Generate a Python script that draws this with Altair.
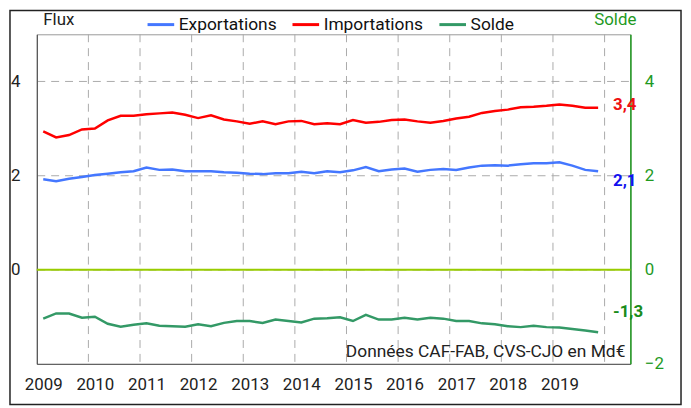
import altair as alt
import pandas as pd

# ---- data (quarterly, 2009Q1 .. 2019Q4), Md€ ----
first_year = 2009
exportations = [1.92, 1.88, 1.93, 1.97, 2.01, 2.04, 2.07, 2.09, 2.17, 2.12, 2.13, 2.09,
                2.09, 2.09, 2.07, 2.06, 2.04, 2.03, 2.05, 2.05, 2.08, 2.05, 2.09, 2.07,
                2.11, 2.18, 2.09, 2.13, 2.15, 2.08, 2.12, 2.14, 2.12, 2.17, 2.21, 2.22,
                2.21, 2.24, 2.26, 2.26, 2.28, 2.21, 2.12, 2.09]
importations = [2.94, 2.81, 2.86, 2.98, 3.00, 3.17, 3.27, 3.27, 3.30, 3.32, 3.34, 3.29,
                3.22, 3.28, 3.19, 3.15, 3.10, 3.15, 3.09, 3.15, 3.16, 3.09, 3.11, 3.09,
                3.18, 3.12, 3.14, 3.18, 3.19, 3.15, 3.12, 3.16, 3.21, 3.25, 3.33, 3.37,
                3.40, 3.45, 3.46, 3.48, 3.51, 3.48, 3.44, 3.44]
solde = [-1.04, -0.93, -0.93, -1.02, -1.00, -1.15, -1.21, -1.17, -1.14, -1.19, -1.20, -1.21,
         -1.16, -1.20, -1.13, -1.09, -1.09, -1.13, -1.06, -1.09, -1.12, -1.04, -1.03, -1.01,
         -1.09, -0.96, -1.06, -1.06, -1.02, -1.06, -1.02, -1.04, -1.09, -1.09, -1.14, -1.16,
         -1.20, -1.22, -1.19, -1.22, -1.23, -1.26, -1.29, -1.33]

series_names = ["Exportations", "Importations", "Solde"]
series_colors = ["#4477ff", "#ff0000", "#339966"]

end_labels = ["2,1", "3,4", "-1,3"]
end_label_pos = [1.88, 3.49, -0.91]
end_label_colors = ["#1111ee", "#ee1111", "#1a8c1a"]

year_label_ticks = list(range(0, 44, 4))          # Q1 of each year
year_bounds = [3.5 + 4 * k for k in range(11)]     # year boundaries (grid)

left_ticks = [0, 2, 4]
right_ticks = [-2, 0, 2, 4]
note = "Données CAF-FAB, CVS-CJO en Md€"

GREEN = "#1f9a1f"
FONT = "Roboto"
FS = 17

rows = []
for name, vals in zip(series_names, [exportations, importations, solde]):
    for i, v in enumerate(vals):
        rows.append({"t": i, "serie": name, "v": v})
df = pd.DataFrame(rows)
last_t = len(exportations) - 1

xscale = alt.Scale(domain=[-0.5, 45.5], nice=False, zero=False)
yscale = alt.Scale(domain=[-2, 5], nice=False, zero=False)

xaxis = alt.Axis(values=year_label_ticks, labelExpr=f"toString({first_year} + datum.value/4)",
                 grid=False, ticks=False, title=None, labelFontSize=FS, labelColor="#222",
                 labelPadding=13, domainColor="#555", labelFlush=False)
xenc = alt.X("t:Q", scale=xscale, axis=xaxis)

left_axis = alt.Axis(values=left_ticks, orient="left", ticks=False, grid=True,
                     gridDash=[8, 6], gridColor="#aaaaaa", domainColor="#444",
                     labelFontSize=FS, labelColor="#222", labelPadding=17,
                     title="Flux", titleAngle=0, titleAlign="left", titleBaseline="alphabetic",
                     titleX=6, titleY=-10, titleFontSize=FS, titleFontWeight="normal",
                     titleColor="#222")
right_axis = alt.Axis(values=right_ticks, orient="right", ticks=False, grid=False,
                      domainColor=GREEN, domainWidth=1.5, labelFontSize=FS, labelColor=GREEN,
                      labelPadding=14,
                      title="Solde", titleAngle=0, titleAlign="left", titleBaseline="alphabetic",
                      titleX=-37, titleY=-10, titleFontSize=FS, titleFontWeight="normal",
                      titleColor=GREEN)

grid_v = alt.Chart(pd.DataFrame({"t": year_bounds})).mark_rule(
    color="#aaaaaa", strokeDash=[8, 6], strokeWidth=1
).encode(x=xenc)

zero = alt.Chart(pd.DataFrame({"v": [0]})).mark_rule(color="#99cc00", strokeWidth=2).encode(
    y=alt.Y("v:Q", scale=yscale, axis=left_axis)
)

right = alt.Chart(pd.DataFrame({"v": [0]})).mark_rule(opacity=0).encode(
    y=alt.Y("v:Q", scale=yscale, axis=right_axis)
)

lines = alt.Chart(df).mark_line(strokeWidth=2.5).encode(
    x=xenc,
    y=alt.Y("v:Q", scale=yscale, axis=None),
    color=alt.Color("serie:N", scale=alt.Scale(domain=series_names, range=series_colors),
                    sort=series_names,
                    legend=alt.Legend(orient="none", legendX=110, legendY=-25,
                                      direction="horizontal", title=None,
                                      labelFontSize=17.5, labelColor="#111",
                                      symbolType="stroke", symbolStrokeWidth=3,
                                      symbolSize=720, columnPadding=9, labelOffset=3,
                                      padding=0)),
    detail="serie:N",
)

label_layers = []
for txt, pos, col in zip(end_labels, end_label_pos, end_label_colors):
    label_layers.append(
        alt.Chart(pd.DataFrame({"t": [last_t], "v": [pos], "txt": [txt]})).mark_text(
            align="left", baseline="middle", dx=15, fontSize=FS, fontWeight="bold", color=col
        ).encode(x=xenc, y=alt.Y("v:Q", scale=yscale, axis=None), text="txt:N")
    )

note_layer = alt.Chart(pd.DataFrame({"a": [0]})).mark_text(
    text=note, align="right", baseline="middle", fontSize=17.5, color="#222"
).encode(x=alt.value(593), y=alt.value(320))

frame = alt.Chart(pd.DataFrame({"a": [0]})).mark_rect(
    filled=False, stroke="#222", strokeWidth=1.5
).encode(x=alt.value(-27), x2=alt.value(649), y=alt.value(-24), y2=alt.value(373))

chart = alt.layer(grid_v, zero, right, lines, *label_layers, note_layer, frame).resolve_axis(
    y="independent"
).properties(
    width=598, height=332,
    autosize=alt.AutoSizeParams(type="none"),
    padding={"left": 29, "top": 25, "right": 53, "bottom": 43},
).configure(font=FONT).configure_view(stroke="#999999", strokeWidth=1)

chart.save("out.html", embed_options={"renderer": "svg", "actions": False})
